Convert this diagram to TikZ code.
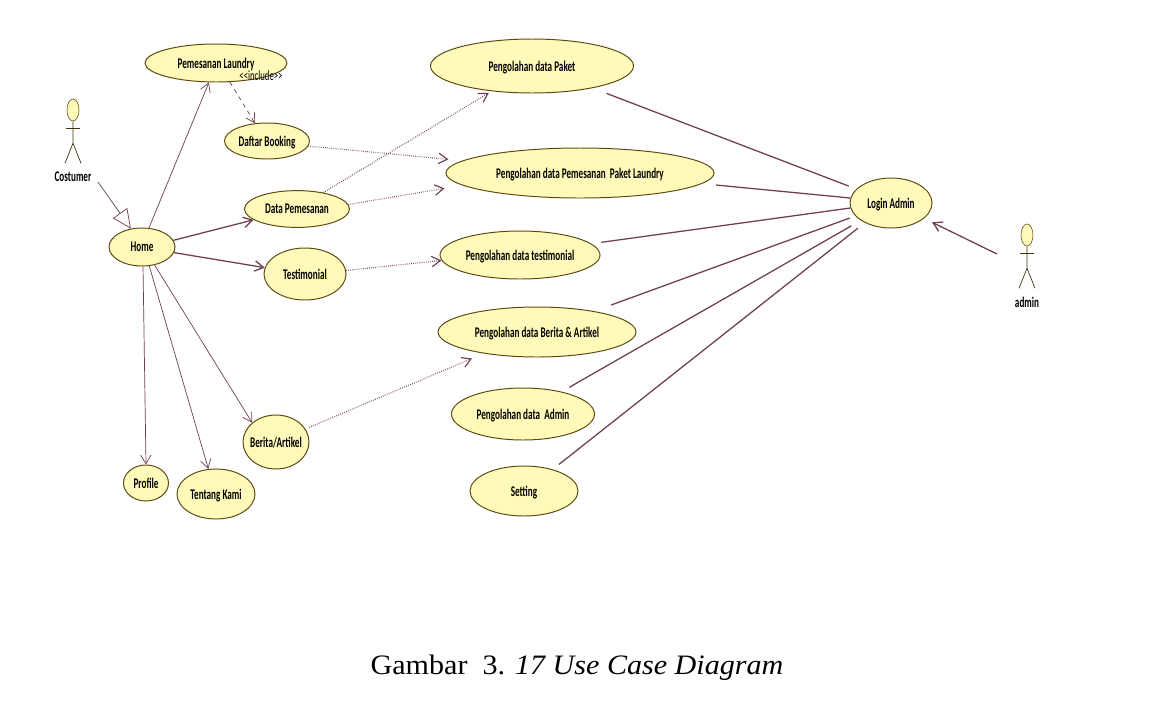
\documentclass[tikz,border=0pt]{standalone}
\usepackage{fontspec}
\newfontfamily\capfont[FakeStretch=1.07]{Liberation Serif}
\newfontfamily\umlfont[FakeStretch=0.62]{Carlito}
\definecolor{cUse} {HTML}{FFFAB9}
\definecolor{cEdge}{HTML}{5C4A14}
\definecolor{cLine}{HTML}{6E3F4A}
\usetikzlibrary{shapes.geometric, arrows.meta, positioning}
\tikzset{
  use/.style    = {ellipse, draw=cEdge, line width=0.7pt, fill=cUse, inner sep=0pt,
                   minimum width=#1, align=center, text depth=0pt,
                   font=\umlfont\bfseries\fontsize{10.5}{12}\selectfont},
  use/.default  = 2.4cm,
  head/.style   = {ellipse, draw=cEdge, fill=cUse, inner sep=0pt,
                   minimum width=0.3cm, minimum height=0.55cm},
  lbl/.style    = {inner sep=0pt, font=\umlfont\bfseries\fontsize{10.5}{12}\selectfont},
  arr/.style    = {->, >={Straight Barb[length=2.2mm, width=2.6mm]}, cLine, line width=0.5pt},
  darr/.style   = {arr, densely dotted, line width=0.8pt},
  inc/.style    = {arr, dashed},
  link/.style   = {cLine, line width=0.9pt},
  gen/.style    = {-{Triangle[open, length=4.75mm, width=4.4mm]}, cLine, line width=0.5pt},
  stick/.style  = {cEdge!70!black, line width=0.5pt},
}
\begin{document}
\begin{tikzpicture}[on grid]
  \useasboundingbox (0,0) rectangle (29.1,-17.6);

  % left column
  \node[use=1.65cm, minimum height=0.95cm] (home) at (3.55,-6.175) {Home};
  \node[use=3.55cm, minimum height=0.95cm,
        above right=4.6cm and 1.85cm of home]     (laundry) {Pemesanan Laundry};
  \node[use=2.125cm, minimum height=0.9cm,
        below right=1.95cm and 1.275cm of laundry] (booking) {Daftar Booking};
  \node[use=2.625cm, minimum height=0.92cm,
        above right=0.95cm and 3.875cm of home]   (data)    {Data Pemesanan};
  \node[use=2.05cm, minimum height=1.3cm,
        below right=0.675cm and 4.075cm of home]  (testi)   {Testimonial};
  \node[use=1.65cm, minimum height=1.35cm, inner xsep=-1.8pt,
        below right=4.875cm and 3.35cm of home]   (berita)  {Berita/Artikel};
  \node[use=1.125cm, minimum height=0.9cm,
        below right=5.9cm and 0.1cm of home]      (profile) {Profile};
  \node[use=1.95cm, minimum height=1.25cm,
        below right=0.275cm and 1.75cm of profile] (tentang) {Tentang Kami};

  % middle column
  \node[use=5.075cm, minimum height=1.35cm,
        above right=3.575cm and 5.875cm of data]  (olahPaket) {Pengolahan data Paket};
  \node[use=6.7cm, minimum height=1.25cm,
        above right=0.9cm and 7.075cm of data]    (olahPesan)
        {Pengolahan data Pemesanan\ \ Paket Laundry};
  \node[use=4cm, minimum height=1.2cm,
        above right=0.475cm and 5.375cm of testi] (olahTesti) {Pengolahan data testimonial};
  \node[use=4.95cm, minimum height=1.25cm,
        above right=2.75cm and 6.525cm of berita] (olahBerita) {Pengolahan data Berita \& Artikel};
  \node[use=3.575cm, minimum height=1.3cm,
        below left=2.05cm and 0.35cm of olahBerita] (olahAdmin) {Pengolahan data\ \ Admin};
  \node[use=2.7cm, minimum height=1.25cm,
        below right=1.925cm and 0.025cm of olahAdmin] (setting) {Setting};

  \node[use=2.05cm, minimum height=1.25cm,
        below right=0.75cm and 7.775cm of olahPesan] (login) {Login Admin};

  % actors
  \node[head, above left=3.425cm and 1.725cm of home] (costumer) {};
  \node[lbl, below=1.675cm of costumer]               (costumerLbl) {Costumer};
  \node[head, below right=0.8cm and 3.4cm of login]   (admin) {};
  \node[lbl, below=1.675cm of admin]                  (adminLbl) {admin};
  \foreach \who in {costumer, admin} {
    \draw[stick] (\who.south) -- ++(0,-0.55) coordinate (\who Hip)
                 -- ++(-0.2,-0.5);
    \draw[stick] (\who Hip) -- ++(0.2,-0.5);
    \draw[stick] ([shift={(-0.17,-0.18)}]\who.south) -- ++(0.34,0);
  }
  \coordinate[below right=1.8cm and 0.625cm of costumer] (costumerFoot);
  \coordinate[below left=0.475cm and 0.75cm of admin] (adminFoot);

  \node[lbl, font=\umlfont\fontsize{10}{11}\selectfont,
        below right=0.325cm and 1.125cm of laundry] (incLbl) {<<include>>};

  % home links
  \draw[gen] (costumerFoot) -- (home.121);
  \draw[arr] (home.70)  -- (laundry.250);
  \draw[arr, line width=0.9pt] (home.12)  -- (data.194);
  \draw[arr, line width=0.9pt] (home.-10) -- (testi.171);
  \draw[arr] (home.-87) -- (profile.90);
  \draw[arr] (home.-69) -- (tentang.107);
  \draw[arr] (home.-55) -- (berita.141);
  \draw[inc] (laundry.-54) -- (booking.124);

  % dotted links
  \draw[darr, shorten >=0.35cm] (booking.-7) -- (olahPesan.174);
  \draw[darr, shorten >=0.45cm] (data.5)     -- (olahPesan.186);
  \draw[darr, shorten >=0.08cm] (data.32)    -- (olahPaket.212);
  \draw[darr] (testi.5)    -- (olahTesti.184);
  \draw[darr, shorten >=0.32cm, shorten <=0.1cm] (berita.24)  -- (olahBerita.202);

  % admin links
  \draw[link, shorten <=0.37cm, shorten >=0.2cm]  (olahPaket.-20)  -- (login.158);
  \draw[link, shorten <=0.35cm]                   (olahPesan.-5)   -- (login.173);
  \draw[link, shorten <=0.25cm]                   (olahTesti.9)    -- (login.187);
  \draw[link, shorten <=0.45cm, shorten >=0.15cm] (olahBerita.20)  -- (login.200);
  \draw[link, shorten <=0.22cm, shorten >=0.27cm] (olahAdmin.30)   -- (login.210);
  \draw[link, shorten <=0.2cm,  shorten >=0.22cm] (setting.37)     -- (login.217);
  \draw[arr, line width=0.9pt, shorten >=0.22cm] (adminFoot) -- (login.-25);

  \node[below right=4.42cm and 1.325cm of setting, inner sep=0pt,
        font=\capfont\fontsize{20}{24}\selectfont] (caption)
        {Gambar\ \ 3. \textit{17 Use Case Diagram}};
\end{tikzpicture}
\end{document}
